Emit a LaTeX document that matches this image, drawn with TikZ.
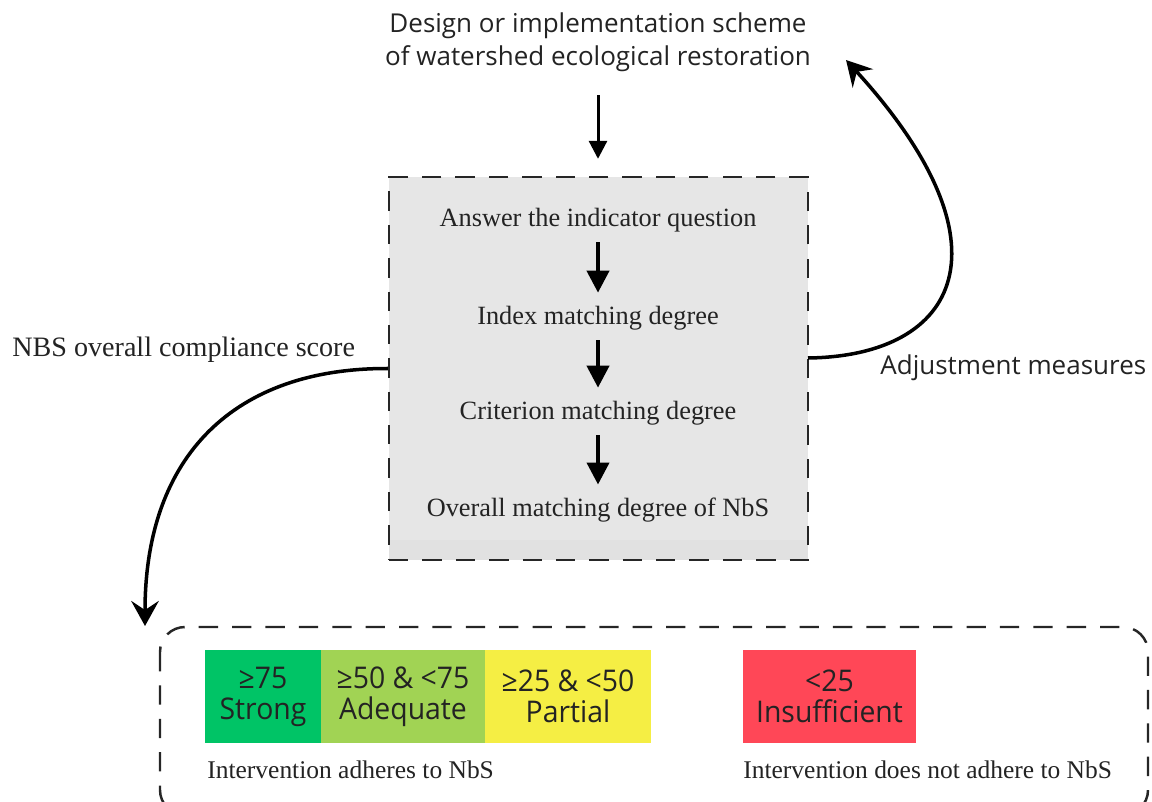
\documentclass[tikz,border=0pt]{standalone}
\usepackage{fontspec}
\setmainfont{Liberation Serif}
\newfontfamily\sansf{Open Sans}
\usetikzlibrary{arrows.meta}
\definecolor{cgreen}{RGB}{0,196,102}
\definecolor{clgreen}{RGB}{161,211,84}
\definecolor{cyellow}{RGB}{245,238,68}
\definecolor{cred}{RGB}{255,71,87}
\definecolor{panelgray}{RGB}{230,230,230}
\definecolor{stripgray}{RGB}{225,225,225}
\definecolor{txt}{RGB}{35,35,35}
\begin{document}
\begin{tikzpicture}[x=0.02cm,y=-0.02cm,
  serifA/.style={font=\fontsize{15}{18}\selectfont, inner sep=0, text=txt},
  serifB/.style={font=\fontsize{16}{19}\selectfont, inner sep=0, text=txt},
  serifC/.style={font=\fontsize{14.5}{17}\selectfont, inner sep=0, text=txt},
  sansA/.style={font=\sansf\fontsize{14.8}{18.7}\selectfont, inner sep=0, text=txt, align=center},
  scorebox/.style={inner sep=0, minimum height=1.86cm, align=center,
     font=\sansf\fontsize{17}{17.6}\selectfont, text=txt},
  inarrow/.style={line width=2.3pt, -{Triangle[length=0.44cm,width=0.44cm]}},
  toparrow/.style={line width=1.7pt, -{Triangle[length=0.36cm,width=0.36cm]}},
  curvearrow/.style={line width=2pt, -{Stealth[length=0.5cm,width=0.55cm,inset=0.18cm]}},
  dashbox/.style={draw=black!85, line width=1.4pt, dash pattern=on 11pt off 8pt}
]
\useasboundingbox (0,0) rectangle (1152,801);

% title
\node[sansA] (title) at (598,42) {Design or implementation scheme\\of watershed ecological restoration};

% panel
\fill[panelgray] (389,177) rectangle (808,560);
\fill[stripgray] (389,540) rectangle (808,560);
\node[dashbox, minimum width=8.38cm, minimum height=7.66cm, inner sep=0] (panel) at (598.5,368.5) {};

\draw[toparrow] (598,95) -- (panel.north -| 598,0) [shorten >=0.34cm];

\node[serifA] (q1) at (598,220) {Answer the indicator question};
\node[serifA] (q2) at (598,318) {Index matching degree};
\node[serifA] (q3) at (598,413) {Criterion matching degree};
\node[serifA] (q4) at (598,510) {Overall matching degree of NbS};

\draw[inarrow, shorten <=0.2cm, shorten >=0.26cm] (q1) -- (q2);
\draw[inarrow, shorten <=0.2cm, shorten >=0.26cm] (q2) -- (q3);
\draw[inarrow, shorten <=0.2cm, shorten >=0.26cm] (q3) -- (q4);

% left curve
\node[serifB, anchor=west] (lscore) at (12,350) {NBS overall compliance score};
\coordinate (lefttip) at (145,626);
\draw[curvearrow] (panel.west) .. controls (235,368) and (145,455) .. (lefttip);

% right curve
\coordinate (adjstart) at (808,358);
\coordinate (righttip) at (846,60);
\node[sansA, anchor=west] (adj) at (880,368) {Adjustment measures};
\draw[curvearrow] (adjstart) .. controls (960,356) and (1015,245) .. (righttip);

% bottom box
\draw[dashbox, rounded corners=0.5cm] (160,627) rectangle (1148,815);

\node[scorebox, fill=cgreen, minimum width=2.32cm] (strong) at (263,696.5) {\scalebox{0.95}[1]{≥75}\\\scalebox{0.95}[1]{Strong}};
\node[scorebox, fill=clgreen, minimum width=3.28cm] (adequate) at (403,696.5) {\scalebox{0.95}[1]{≥50 \& <75}\\\scalebox{0.95}[1]{Adequate}};
\node[scorebox, fill=cyellow, minimum width=3.32cm] (partial) at (568,696.5) {\scalebox{0.95}[1]{≥25 \& <50}\\\scalebox{0.95}[1]{Partial}};
\node[scorebox, fill=cred, minimum width=3.46cm] (insuff) at (829.5,696.5) {\scalebox{0.95}[1]{<25}\\\scalebox{0.95}[1]{Insufficient}};

\node[serifC, anchor=west] (adh) at (207,770) {Intervention adheres to NbS};
\node[serifC, anchor=west] (nadh) at (743,770) {Intervention does not adhere to NbS};
\end{tikzpicture}
\end{document}
